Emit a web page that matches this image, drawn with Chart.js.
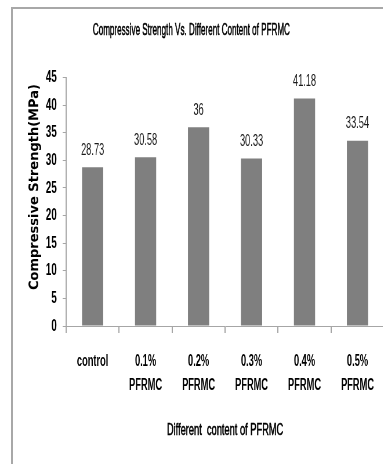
<!DOCTYPE html>
<html>
<head>
<meta charset="utf-8">
<script src="https://cdn.jsdelivr.net/npm/chart.js@4/dist/chart.umd.min.js"></script>
<style>
  html, body { margin: 0; padding: 0; background: #fff; overflow: hidden; width: 383px; height: 464px; }
  #frame { position: absolute; left: 11px; top: 7px; width: 420px; height: 520px;
           border-top: 2px solid #a8a8a8; border-left: 2px solid #a8a8a8; }
  /* the chart is laid out wide and drawn condensed horizontally */
  #wrap { position: absolute; left: 0; top: 0; width: 664px; height: 464px;
          transform: scaleX(0.58); transform-origin: 0 0; }
  canvas { display: block; }
</style>
</head>
<body>
<div id="frame"></div>
<div id="wrap"><canvas id="c" width="664" height="464" style="width:664px;height:464px"></canvas></div>
<script>
// Compressive strength (MPa) for each PFRMC content
const categories = ['control', ['0.1%', 'PFRMC'], ['0.2%', 'PFRMC'], ['0.3%', 'PFRMC'], ['0.4%', 'PFRMC'], ['0.5%', 'PFRMC']];
const strength = [28.73, 30.58, 36, 30.33, 41.18, 33.54];
const yMin = 0, yMax = 45, yStep = 5;

const chartTitle = 'Compressive Strength Vs. Different Content of PFRMC';
const xTitle = 'Different  content of PFRMC';
const yTitle = 'Compressive Strength(MPa)';

const SQUEEZE = 0.58;
const FONT = '"Liberation Sans", Arial, sans-serif';
const axisGray = '#a6a6a6';

// draws text with a slightly heavier stroke than plain fill
function heavyText(ctx, text, x, y) {
  ctx.fillText(text, x, y);
  ctx.strokeText(text, x, y);
}

// Value labels above bars, plus chart and axis titles
const annotations = {
  id: 'annotations',
  afterDatasetsDraw(chart) {
    const ctx = chart.ctx;
    const meta = chart.getDatasetMeta(0);
    ctx.save();
    ctx.fillStyle = '#1a1a1a';
    ctx.font = '16px ' + FONT;
    ctx.textAlign = 'center';
    ctx.textBaseline = 'middle';
    meta.data.forEach((bar, i) => {
      ctx.fillText(String(strength[i]), bar.x, bar.y - 17);
    });
    ctx.restore();
  },
  afterDraw(chart) {
    const ctx = chart.ctx;
    const area = chart.chartArea;
    ctx.save();
    ctx.fillStyle = '#000';
    ctx.strokeStyle = '#000';
    ctx.lineWidth = 0.6;
    ctx.textAlign = 'center';
    ctx.textBaseline = 'middle';

    // chart title, set a little narrower than the body text
    ctx.save();
    ctx.translate(330, 30);
    ctx.scale(0.82, 1);
    ctx.font = '17px ' + FONT;
    heavyText(ctx, chartTitle, 0, 0);
    ctx.restore();

    ctx.font = '16px ' + FONT;
    heavyText(ctx, xTitle, (area.left + area.right) / 2, 431);

    // vertical title, kept at its natural width despite the condensed layout
    ctx.translate(60, 187);
    ctx.scale(1 / SQUEEZE, 1);
    ctx.rotate(-Math.PI / 2);
    ctx.font = 'bold 13px "DejaVu Sans", Verdana, sans-serif';
    ctx.fillText(yTitle, 0, 0);
    ctx.restore();
  }
};

new Chart(document.getElementById('c'), {
  type: 'bar',
  data: {
    labels: categories,
    datasets: [{
      data: strength,
      backgroundColor: '#7f7f7f',
      borderWidth: 0,
      barPercentage: 0.4,
      categoryPercentage: 1
    }]
  },
  options: {
    responsive: false,
    animation: false,
    layout: { padding: { top: 77.5, right: 2, bottom: 0, left: 0 } },
    plugins: { legend: { display: false }, title: { display: false }, tooltip: { enabled: false } },
    scales: {
      x: {
        grid: { drawOnChartArea: false, drawTicks: true, tickLength: 7, color: axisGray, lineWidth: 2 },
        border: { color: axisGray, width: 1 },
        ticks: { color: '#000', padding: 17, maxRotation: 0, autoSkip: false,
                 font: { family: FONT, size: 16, weight: 'bold', lineHeight: 1.5 } },
        afterFit(scale) { scale.height = 138; }
      },
      y: {
        min: yMin, max: yMax,
        grid: { drawOnChartArea: false, drawTicks: true, tickLength: 6, color: axisGray, lineWidth: 1 },
        border: { color: axisGray, width: 2 },
        ticks: { stepSize: yStep, color: '#000', padding: 10,
                 font: { family: FONT, size: 17, weight: 'bold' } },
        afterFit(scale) { scale.width = 114; }
      }
    }
  },
  plugins: [annotations]
});
</script>
</body>
</html>
